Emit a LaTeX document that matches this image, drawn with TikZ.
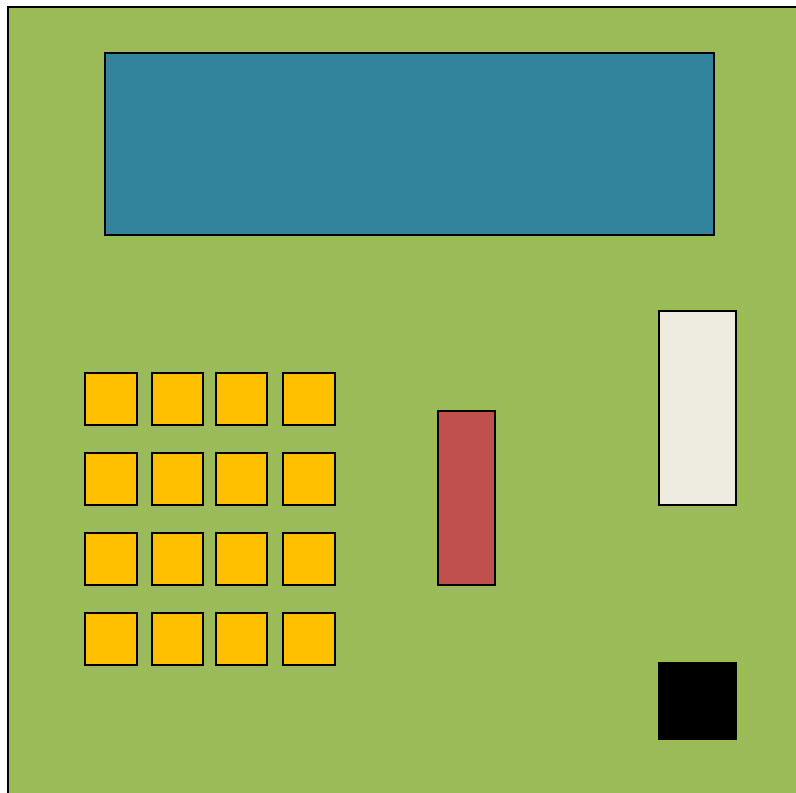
\documentclass[tikz,border=0pt]{standalone}
\definecolor{bggreen}{HTML}{9BBB59}
\definecolor{dispblue}{HTML}{31849B}
\definecolor{keyyellow}{HTML}{FFC000}
\definecolor{slotred}{HTML}{C0504D}
\definecolor{paperwhite}{HTML}{EEECE1}
\tikzset{
  part/.style={draw=black, line width=1.3pt},
  keybox/.style={part, fill=keyyellow},
}
\begin{document}
\begin{tikzpicture}[x=1pt,y=-1pt]
\useasboundingbox (0,0) rectangle (796,793);
\begin{scope}
\clip (0,0) rectangle (796,793);
\draw[fill=bggreen, line width=2pt] (8,7) rectangle (810,810);
\end{scope}
\draw[part, fill=dispblue] (105,53) rectangle (714,235);
\draw[part, fill=paperwhite] (659,311) rectangle (736,505);
\draw[part, fill=slotred] (438,411) rectangle (495,585);
\fill[black] (658,662) rectangle (737,740);
\foreach \xa/\xb in {85/137,152/203,216/267,283/335}{
  \foreach \ya in {373,453,533,613}{
    \draw[keybox] (\xa,\ya) rectangle (\xb,\ya+52);
  }
}
\end{tikzpicture}
\end{document}
